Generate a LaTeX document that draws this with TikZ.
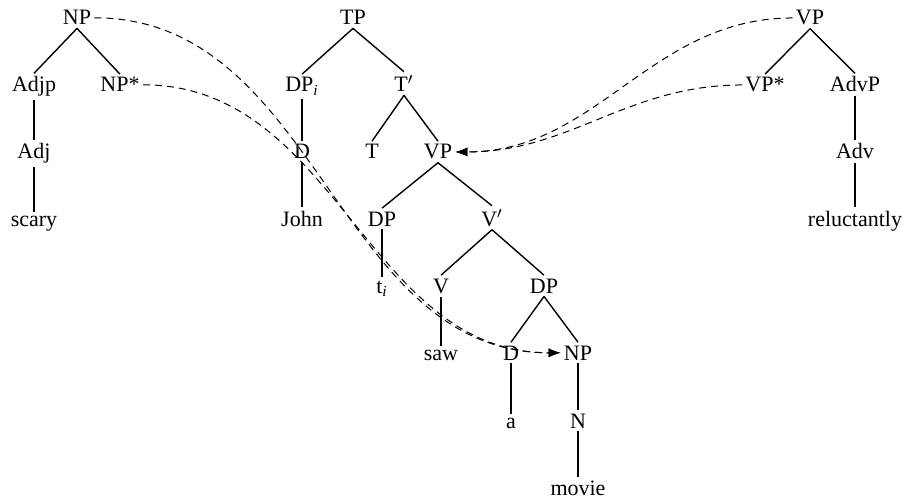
\documentclass[tikz,border=0pt]{standalone}
\usepackage{fontspec}
\setmainfont{Liberation Serif}
\usetikzlibrary{arrows.meta}
\tikzset{
    cat/.style={
        font=\fontsize{11}{13}\selectfont,
        anchor=base,
        inner sep=1.5pt
    },
    branch/.style={
        line width=0.7pt
    },
    adjoin/.style={
        -{Latex[length=6pt, width=4.5pt]},
        dash pattern=on 3.5pt off 2.5pt,
        line width=0.5pt
    }
}

\begin{document}
\begin{tikzpicture}[x=0.5pt, y=-0.5pt]
  \useasboundingbox (0,0) rectangle (908,502);

  % Auxiliary tree: scary NP
  \node[cat] (npr) at (77,25) {NP};
  \node[cat] (adjp) at (34,92) {Adjp};
  \node[cat] (npstar) at (120,92) {NP*};
  \node[cat] (adj) at (34,159) {Adj};
  \node[cat] (scary) at (34,226) {scary};
  \draw[branch] (npr.south) -- (adjp.north);
  \draw[branch] (npr.south) -- (npstar.north);
  \draw[branch] (adjp.south) -- (adj.north);
  \draw[branch] (adj.south) -- (scary.north);

  % Main tree
  \node[cat] (tp) at (353,25) {TP};
  \node[cat] (dpi) at (302,92) {DP\textsubscript{\itshape i}};
  \node[cat] (tbar) at (404,92) {T$'$};
  \node[cat] (d) at (302,159) {D};
  \node[cat] (t) at (372,159) {T};
  \node[cat] (vp) at (438,159) {VP};
  \node[cat] (john) at (302,226) {John};
  \node[cat] (dp) at (382,226) {DP};
  \node[cat] (vbar) at (492,226) {V$'$};
  \node[cat] (ti) at (382,293) {t\textsubscript{\itshape i}};
  \node[cat] (v) at (441,293) {V};
  \node[cat] (dpo) at (544,293) {DP};
  \node[cat] (saw) at (441,360) {saw};
  \node[cat] (det) at (511,360) {D};
  \node[cat] (np) at (578,360) {NP};
  \node[cat] (a) at (511,428) {a};
  \node[cat] (n) at (578,428) {N};
  \node[cat] (movie) at (578,495) {movie};
  \draw[branch] (tp.south) -- (dpi.north);
  \draw[branch] (tp.south) -- (tbar.north);
  \draw[branch] (dpi.south) -- (d.north);
  \draw[branch] (d.south) -- (john.north);
  \draw[branch] (tbar.south) -- (t.north);
  \draw[branch] (tbar.south) -- (vp.north);
  \draw[branch] (vp.south) -- (dp.north);
  \draw[branch] (vp.south) -- (vbar.north);
  \draw[branch] (dp.south) -- (ti.north);
  \draw[branch] (vbar.south) -- (v.north);
  \draw[branch] (vbar.south) -- (dpo.north);
  \draw[branch] (v.south) -- (saw.north);
  \draw[branch] (dpo.south) -- (det.north);
  \draw[branch] (dpo.south) -- (np.north);
  \draw[branch] (det.south) -- (a.north);
  \draw[branch] (np.south) -- (n.north);
  \draw[branch] (n.south) -- (movie.north);

  % Auxiliary tree: reluctantly VP
  \node[cat] (vpr) at (810,25) {VP};
  \node[cat] (vpstar) at (765,92) {VP*};
  \node[cat] (advp) at (855,92) {AdvP};
  \node[cat] (adv) at (855,159) {Adv};
  \node[cat] (rel) at (855,226) {reluctantly};
  \draw[branch] (vpr.south) -- (vpstar.north);
  \draw[branch] (vpr.south) -- (advp.north);
  \draw[branch] (advp.south) -- (adv.north);
  \draw[branch] (adv.south) -- (rel.north);

  % Adjunction
  \draw[adjoin] (npr.east) to[out=0, in=180] (np.west);
  \draw[adjoin] (npstar.east) to[out=0, in=180] (np.west);
  \draw[adjoin] (vpr.west) to[out=180, in=0] (vp.east);
  \draw[adjoin] (vpstar.west) to[out=180, in=0] (vp.east);
\end{tikzpicture}
\end{document}
